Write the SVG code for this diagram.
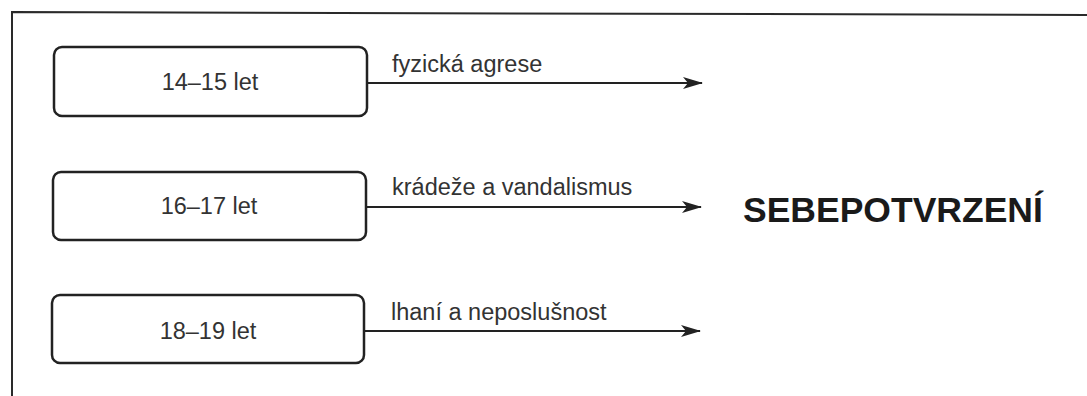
<svg xmlns="http://www.w3.org/2000/svg" width="1087" height="396" viewBox="0 0 1087 396">
<style>
.frame{fill:none;stroke:#2a2a2a;stroke-width:2}
.box{fill:#fff;stroke:#222;stroke-width:2.5}
.conn{stroke:#222;stroke-width:2.2;fill:none}
.lbl{font-family:"Liberation Sans",Arial,sans-serif;font-size:23.5px;fill:#333}
.edge{font-family:"Liberation Sans",Arial,sans-serif;font-size:23.5px;fill:#333}
.big{font-family:"Liberation Sans",Arial,sans-serif;font-size:35.5px;font-weight:bold;fill:#1a1a1a}
</style>
<defs>
<marker id="ah" viewBox="0 0 20 12" refX="19" refY="6" markerWidth="20" markerHeight="12" markerUnits="userSpaceOnUse" orient="auto">
<path d="M0,0 L20,6 L0,12 L5,6 Z" fill="#222"/>
</marker>
</defs>
<rect width="1087" height="396" fill="#fff"/>
<g id="frame">
<path class="frame" d="M12,396 L12,12 L1087,15"/>
</g>
<g id="connectors">
<line class="conn" x1="367" y1="83" x2="702" y2="83" marker-end="url(#ah)"/>
<line class="conn" x1="366" y1="207" x2="701" y2="207" marker-end="url(#ah)"/>
<line class="conn" x1="364" y1="331" x2="700" y2="331" marker-end="url(#ah)"/>
<text class="edge" x="392" y="72">fyzická agrese</text>
<text class="edge" x="392" y="195">krádeže a vandalismus</text>
<text class="edge" x="391" y="320">lhaní a neposlušnost</text>
</g>
<g id="n1">
<rect class="box" x="54" y="47" width="313" height="69" rx="8"/>
<text class="lbl" x="210" y="90" text-anchor="middle">14–15 let</text>
</g>
<g id="n2">
<rect class="box" x="53" y="172" width="313" height="68" rx="8"/>
<text class="lbl" x="209" y="214" text-anchor="middle">16–17 let</text>
</g>
<g id="n3">
<rect class="box" x="52" y="295" width="312" height="68" rx="8"/>
<text class="lbl" x="208" y="339" text-anchor="middle">18–19 let</text>
</g>
<g id="target">
<text class="big" x="743" y="222">SEBEPOTVRZENÍ</text>
</g>
</svg>
